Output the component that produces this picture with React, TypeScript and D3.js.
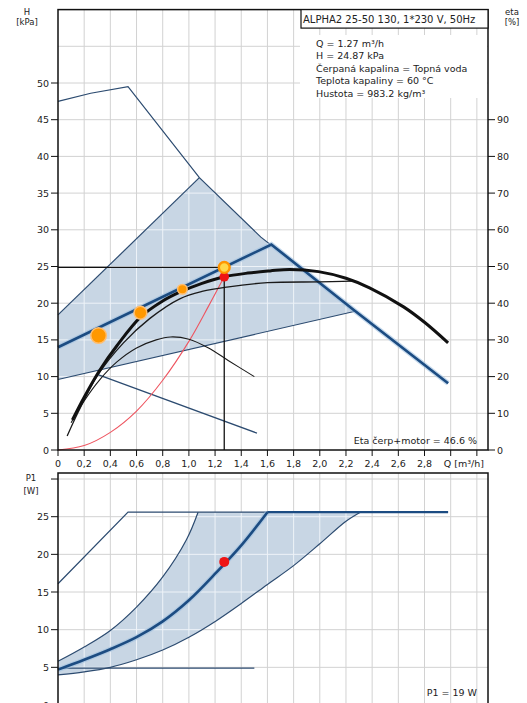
import React from 'react';
import * as d3 from 'd3';

type Pt = [number, number];

// x axis (Q, m3/h)
const qTicks = [0, 0.2, 0.4, 0.6, 0.8, 1.0, 1.2, 1.4, 1.6, 1.8, 2.0, 2.2, 2.4, 2.6, 2.8, 3.0, 3.2];
const qLabels = ['0', '0,2', '0,4', '0,6', '0,8', '1,0', '1,2', '1,4', '1,6', '1,8', '2,0', '2,2', '2,4', '2,6', '2,8'];
const hTicks = [0, 5, 10, 15, 20, 25, 30, 35, 40, 45, 50];
const hGrid = [5, 10, 15, 20, 25, 30, 35, 40, 45, 50, 55];
const etaTicks = [0, 10, 20, 30, 40, 50, 60, 70, 80, 90];
const pTicks = [0, 5, 10, 15, 20, 25];
const pGrid = [5, 10, 15, 20, 25, 30];

// top chart: H [kPa] vs Q
const maxCurve: Pt[] = [[0, 47.5], [0.25, 48.6], [0.535, 49.5], [1.08, 37.1], [1.55, 29.0], [2.25, 19.2], [2.98, 9.1]];
const shadeTop: Pt[] = [[0, 9.6], [0, 18.4], [1.08, 37.1], [1.55, 29.0], [2.27, 18.9]];
const upperLine: Pt[] = [[0, 18.4], [1.08, 37.1]];
const lowerLine: Pt[] = [[0, 9.6], [2.27, 18.9]];
const propLine: Pt[] = [[0, 14.0], [1.63, 28.0], [2.25, 19.2], [2.98, 9.1]];
const minLine: Pt[] = [[0.3, 10.3], [1.52, 2.3]];
const qhCurve: Pt[] = [[0.11, 4.1], [0.2, 7.2], [0.32, 10.9], [0.45, 14.2], [0.63, 18.1], [0.8, 20.3], [0.93, 21.5], [1.1, 22.7], [1.27, 23.6], [1.45, 24.1], [1.62, 24.4], [1.77, 24.6], [1.99, 24.3], [2.2, 23.4], [2.38, 22.1], [2.64, 19.5], [2.8, 17.4], [2.98, 14.6]];
const qhCurve2: Pt[] = [[0.07, 1.9], [0.15, 5.0], [0.3, 10.1], [0.5, 14.6], [0.7, 17.9], [0.93, 20.6], [1.1, 21.6], [1.29, 22.2], [1.6, 22.8], [2.0, 22.9], [2.25, 23.0]];
const qhCurve3: Pt[] = [[0.1, 3.7], [0.2, 6.7], [0.32, 9.6], [0.45, 12.0], [0.6, 13.9], [0.75, 15.0], [0.86, 15.4], [1.0, 15.1], [1.15, 13.9], [1.3, 12.2], [1.5, 10.0]];
const systemCurve: Pt[] = [[0, 0], [0.2, 0.6], [0.4, 2.4], [0.6, 5.3], [0.8, 9.5], [1.0, 14.8], [1.15, 19.6], [1.27, 23.6]];
const autoAdaptPts: Pt[] = [[0.31, 15.6], [0.63, 18.7], [0.95, 21.9]];
const dutyPoint: Pt = [1.27, 24.87];
const actualPoint: Pt = [1.27, 23.6];

// bottom chart: P1 [W] vs Q
const p1Max: Pt[] = [[0, 16.1], [0.535, 25.6], [2.98, 25.6]];
const p1Upper: Pt[] = [[0, 5.8], [0.2, 7.7], [0.4, 9.9], [0.6, 13.0], [0.8, 17.0], [0.98, 21.9], [1.07, 25.6]];
const p1Sel: Pt[] = [[0, 4.7], [0.2, 6.0], [0.4, 7.4], [0.6, 9.0], [0.8, 11.1], [1.0, 13.9], [1.21, 17.6], [1.41, 21.4], [1.6, 25.6]];
const p1Lower: Pt[] = [[0, 4.0], [0.2, 4.4], [0.4, 5.0], [0.6, 6.0], [0.8, 7.3], [1.0, 9.0], [1.21, 11.2], [1.41, 13.6], [1.6, 16.0], [1.8, 18.5], [2.0, 21.4], [2.2, 24.4], [2.31, 25.6]];
const p1Flat: Pt[] = [[1.6, 25.6], [2.98, 25.6]];
const p1Floor: Pt[] = [[0, 4.9], [1.5, 4.9]];
const p1Point: Pt = [1.27, 19.0];

const infoLines = ['Q = 1.27 m³/h', 'H = 24.87 kPa', 'Čerpaná kapalina = Topná voda', 'Teplota kapaliny = 60 °C', 'Hustota = 983.2 kg/m³'];

const font = '"DejaVu Sans", Verdana, sans-serif';
const shadeFill = '#c8d6e4';
const thinBlue = '#2c4b70';
const thickBlue = '#1c4c82';

export default function App() {
  const x = d3.scaleLinear().domain([0, 3.285]).range([58, 488]);
  const yH = d3.scaleLinear().domain([0, 60]).range([450, 9.6]);
  const yEta = d3.scaleLinear().domain([0, 120]).range([450, 9.6]);
  const yP = d3.scaleLinear().domain([0, 30.8]).range([705, 473]);

  const lineH = d3.line<Pt>().x(d => x(d[0])).y(d => yH(d[1]));
  const smoothH = d3.line<Pt>().x(d => x(d[0])).y(d => yH(d[1])).curve(d3.curveCatmullRom.alpha(0.5));
  const lineP = d3.line<Pt>().x(d => x(d[0])).y(d => yP(d[1]));
  const smoothP = d3.line<Pt>().x(d => x(d[0])).y(d => yP(d[1])).curve(d3.curveCatmullRom.alpha(0.5));

  const shadeTopPath = lineH(shadeTop) + 'Z';
  const shadeBotPath = smoothP(p1Upper)! + 'L' + x(2.31) + ',' + yP(25.6) + smoothP(p1Lower.slice().reverse())!.replace(/^M/, 'L') + 'Z';

  const orangeR = [7.8, 6.4, 4.8];
  const txt = { fontFamily: font, fontSize: 9.5, fill: '#222' } as const;
  const small = { ...txt, fontSize: 8.5 };

  return (
    <div style={{ position: 'absolute', left: 0, top: 0 }}>
      <svg width={527} height={703} style={{ display: 'block', background: '#fff' }}>
        <defs>
          <clipPath id="clipTop"><path d={shadeTopPath} /></clipPath>
          <clipPath id="clipBot"><path d={shadeBotPath} /></clipPath>
        </defs>

        {/* ---------- top chart ---------- */}
        {qTicks.slice(1).map(q => (
          <line key={'vg' + q} x1={x(q)} x2={x(q)} y1={yH(60)} y2={yH(0)} stroke="#d2d2d2" strokeWidth={1} />
        ))}
        {hGrid.map(h => (
          <line key={'hg' + h} x1={x(0)} x2={488} y1={yH(h)} y2={yH(h)} stroke="#d2d2d2" strokeWidth={1} />
        ))}
        <path d={shadeTopPath} fill={shadeFill} />
        <g clipPath="url(#clipTop)">
          {qTicks.slice(1).map(q => (
            <line key={'vgw' + q} x1={x(q)} x2={x(q)} y1={yH(60)} y2={yH(0)} stroke="#eef3f8" strokeWidth={1} />
          ))}
          {hGrid.map(h => (
            <line key={'hgw' + h} x1={x(0)} x2={488} y1={yH(h)} y2={yH(h)} stroke="#eef3f8" strokeWidth={1} />
          ))}
        </g>

        {/* info box background */}
        <rect x={300} y={35} width={187} height={63} fill="#fff" />

        <path d={lineH(maxCurve)!} fill="none" stroke={thinBlue} strokeWidth={1.2} />
        <path d={lineH(upperLine)!} fill="none" stroke={thinBlue} strokeWidth={1.2} />
        <path d={lineH(lowerLine)!} fill="none" stroke={thinBlue} strokeWidth={1.2} />
        <path d={lineH(minLine)!} fill="none" stroke={thinBlue} strokeWidth={1.2} />
        <path d={lineH(propLine)!} fill="none" stroke="#9fc0e0" strokeWidth={5} opacity={0.6} />
        <path d={lineH(propLine)!} fill="none" stroke={thickBlue} strokeWidth={2.6} />

        <path d={smoothH(systemCurve)!} fill="none" stroke="#ee5560" strokeWidth={1.1} />
        <path d={smoothH(qhCurve3)!} fill="none" stroke="#1a1a1a" strokeWidth={1.1} />
        <path d={smoothH(qhCurve2)!} fill="none" stroke="#1a1a1a" strokeWidth={1.3} />
        <path d={smoothH(qhCurve)!} fill="none" stroke="#111" strokeWidth={3} />

        <path d={lineH([[0, dutyPoint[1]], dutyPoint])!} stroke="#111" strokeWidth={1.3} fill="none" />
        <path d={lineH([[dutyPoint[0], 0], dutyPoint])!} stroke="#111" strokeWidth={1.3} fill="none" />

        {autoAdaptPts.map((p, i) => (
          <circle key={'o' + i} cx={x(p[0])} cy={yH(p[1])} r={orangeR[i]} fill="#ff9800" stroke="#ffbe70" strokeWidth={1.5} />
        ))}
        <circle cx={x(actualPoint[0])} cy={yH(actualPoint[1])} r={4.8} fill="#ee1515" />
        <circle cx={x(dutyPoint[0])} cy={yH(dutyPoint[1])} r={5.4} fill="#ffd84a" stroke="#ff9500" strokeWidth={2.4} />

        {/* frame */}
        <rect x={58} y={9.6} width={430} height={440.4} fill="none" stroke="#111" strokeWidth={1.5} />
        <rect x={301} y={9.6} width={187} height={18.5} fill="#fff" stroke="#111" strokeWidth={1.2} />
        <text x={303} y={22.5} style={{ ...txt, fontSize: 10 }}>ALPHA2 25-50 130, 1*230 V, 50Hz</text>
        {infoLines.map((s, i) => (
          <text key={s} x={316} y={46.5 + i * 12.5} style={txt}>{s}</text>
        ))}

        {hTicks.map(h => (
          <g key={'ht' + h}>
            <line x1={51} x2={58} y1={yH(h)} y2={yH(h)} stroke="#111" strokeWidth={1} />
            <text x={49} y={yH(h) + 3.5} textAnchor="end" style={txt}>{h}</text>
          </g>
        ))}
        {etaTicks.map(e => (
          <g key={'et' + e}>
            <line x1={488} x2={495} y1={yEta(e)} y2={yEta(e)} stroke="#111" strokeWidth={1} />
            <text x={497} y={yEta(e) + 3.5} style={txt}>{e}</text>
          </g>
        ))}
        {qTicks.map(q => (
          <line key={'qt' + q} x1={x(q)} x2={x(q)} y1={450} y2={456} stroke="#111" strokeWidth={1} />
        ))}
        {qLabels.map((s, i) => (
          <text key={'ql' + s} x={x(qTicks[i])} y={466.5} textAnchor="middle" style={txt}>{s}</text>
        ))}
        <text x={x(3.0) - 7} y={466.5} style={txt}>Q [m³/h]</text>

        <text x={27} y={14.5} textAnchor="middle" style={small}>H</text>
        <text x={27} y={25} textAnchor="middle" style={small}>[kPa]</text>
        <text x={512} y={14.5} textAnchor="middle" style={small}>eta</text>
        <text x={512} y={25} textAnchor="middle" style={small}>[%]</text>
        <text x={477} y={443.5} textAnchor="end" style={txt}>Eta čerp+motor = 46.6 %</text>

        {/* ---------- bottom chart ---------- */}
        {qTicks.slice(1).map(q => (
          <line key={'pvg' + q} x1={x(q)} x2={x(q)} y1={473} y2={705} stroke="#d2d2d2" strokeWidth={1} />
        ))}
        {pGrid.map(p => (
          <line key={'phg' + p} x1={x(0)} x2={488} y1={yP(p)} y2={yP(p)} stroke="#d2d2d2" strokeWidth={1} />
        ))}
        <path d={shadeBotPath} fill={shadeFill} />
        <g clipPath="url(#clipBot)">
          {qTicks.slice(1).map(q => (
            <line key={'pvgw' + q} x1={x(q)} x2={x(q)} y1={473} y2={705} stroke="#eef3f8" strokeWidth={1} />
          ))}
          {pGrid.map(p => (
            <line key={'phgw' + p} x1={x(0)} x2={488} y1={yP(p)} y2={yP(p)} stroke="#eef3f8" strokeWidth={1} />
          ))}
        </g>
        <path d={lineP(p1Max)!} fill="none" stroke={thinBlue} strokeWidth={1.2} />
        <path d={lineP(p1Floor)!} fill="none" stroke={thinBlue} strokeWidth={1.2} />
        <path d={smoothP(p1Upper)!} fill="none" stroke={thinBlue} strokeWidth={1.2} />
        <path d={smoothP(p1Lower)!} fill="none" stroke={thinBlue} strokeWidth={1.2} />
        <path d={smoothP(p1Sel)!} fill="none" stroke="#9fc0e0" strokeWidth={5} opacity={0.6} />
        <path d={smoothP(p1Sel)!} fill="none" stroke={thickBlue} strokeWidth={2.6} />
        <path d={lineP(p1Flat)!} fill="none" stroke={thickBlue} strokeWidth={2.4} />
        <circle cx={x(p1Point[0])} cy={yP(p1Point[1])} r={5} fill="#ee1515" />

        <rect x={58} y={473} width={430} height={240} fill="none" stroke="#111" strokeWidth={1.5} />
        {pTicks.map(p => (
          <g key={'pt' + p}>
            <line x1={51} x2={58} y1={yP(p)} y2={yP(p)} stroke="#111" strokeWidth={1} />
            <text x={49} y={yP(p) + 3.5} textAnchor="end" style={txt}>{p}</text>
          </g>
        ))}
        <line x1={51} x2={58} y1={yP(30)} y2={yP(30)} stroke="#111" strokeWidth={1} />
        <text x={31} y={481} textAnchor="middle" style={small}>P1</text>
        <text x={31} y={494} textAnchor="middle" style={small}>[W]</text>
        <text x={477} y={696} textAnchor="end" style={txt}>P1 = 19 W</text>
      </svg>
    </div>
  );
}
